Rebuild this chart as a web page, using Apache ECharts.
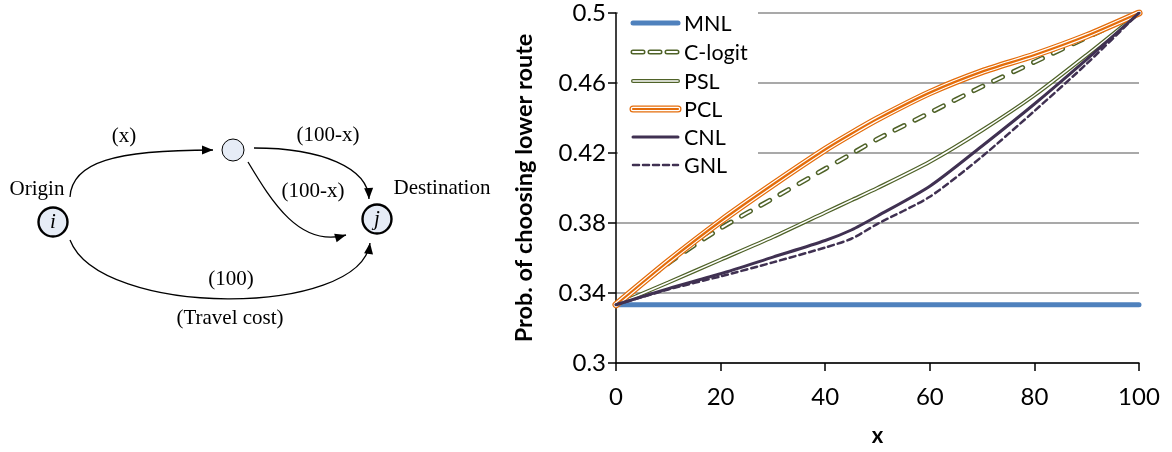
<!DOCTYPE html>
<html>
<head>
<meta charset="utf-8">
<script src="https://cdn.jsdelivr.net/npm/echarts@6/dist/echarts.min.js"></script>
<style>
  html, body { margin: 0; padding: 0; background: #fff; }
  #chart { width: 1172px; height: 452px; }
</style>
</head>
<body>
<div id="chart"></div>
<script>
// x = cost on the shared upper link; y = probability of taking the lower route
const xValues = [0, 10, 20, 30, 40, 45, 50, 60, 70, 80, 90, 100];
const mnl    = [0.3333, 0.3333, 0.3333, 0.3333, 0.3333, 0.3333, 0.3333, 0.3333, 0.3333, 0.3333, 0.3333, 0.3333];
const clogit = [0.3333, 0.357, 0.377, 0.394, 0.411, 0.4195, 0.428, 0.443, 0.458, 0.472, 0.486, 0.5];
const psl    = [0.3333, 0.346, 0.359, 0.372, 0.386, 0.393, 0.400, 0.415, 0.433, 0.453, 0.476, 0.5];
const pcl    = [0.3333, 0.358, 0.381, 0.402, 0.422, 0.431, 0.4395, 0.4545, 0.4665, 0.476, 0.487, 0.5];
const cnl    = [0.3333, 0.3425, 0.351, 0.3605, 0.370, 0.376, 0.384, 0.401, 0.424, 0.448, 0.4735, 0.5];
const gnl    = [0.3333, 0.342, 0.3495, 0.3575, 0.366, 0.371, 0.3795, 0.395, 0.418, 0.444, 0.471, 0.5];
const seriesNames = ['MNL', 'C-logit', 'PSL', 'PCL', 'CNL', 'GNL'];
const yTickLabels = ['0.3', '0.34', '0.38', '0.42', '0.46', '0.5'];
const xTickLabels = ['0', '20', '40', '60', '80', '100'];

const BLUE = '#4F81BD', GREEN = '#4F6228', ORANGE = '#E46C0A', PURPLE = '#403152';
const FONT = 'Lato, "Open Sans", "Noto Sans", sans-serif';
const SERIF = '"Liberation Serif", "DejaVu Serif", serif';

function pairs(ys) { return xValues.map((x, i) => [x, ys[i]]); }

function lineSeries(name, ys, color, width, dash, z) {
  return {
    name: name, type: 'line', data: pairs(ys), smooth: 0.25,
    showSymbol: false, symbol: 'none', silent: true, z: z,
    lineStyle: { color: color, width: width, type: dash || 'solid', cap: 'round' }
  };
}

// compound strokes (double / triple lines) are stacked strokes of the same path
const series = [
  lineSeries('MNL', mnl, BLUE, 5, null, 2),
  lineSeries('C-logit', clogit, GREEN, 5, [10, 12], 3),
  lineSeries('C-logit-in', clogit, '#fff', 2, [10, 12], 4),
  lineSeries('PSL', psl, GREEN, 4, null, 3),
  lineSeries('PSL-in', psl, '#fff', 1.5, null, 4),
  lineSeries('PCL', pcl, ORANGE, 7, null, 5),
  lineSeries('PCL-in', pcl, '#fff', 4.6, null, 6),
  lineSeries('PCL-core', pcl, ORANGE, 2.2, null, 7),
  lineSeries('GNL', gnl, PURPLE, 2.5, [6, 4], 8),
  lineSeries('CNL', cnl, PURPLE, 3, null, 8)
];

// ---- network sketch on the left ----
function arrowHead(fx, fy, tx, ty) {
  const len = 11, hw = 4.5;
  const dx = tx - fx, dy = ty - fy, d = Math.hypot(dx, dy);
  const ux = dx / d, uy = dy / d;
  const bx = tx - ux * len, by = ty - uy * len;
  return {
    type: 'polygon',
    shape: { points: [[tx, ty], [bx - uy * hw, by + ux * hw], [bx + uy * hw, by - ux * hw]] },
    style: { fill: '#000' }
  };
}
function link(p0, p1, p2, p3) {
  return [
    { type: 'bezierCurve',
      shape: { x1: p0[0], y1: p0[1], cpx1: p1[0], cpy1: p1[1], cpx2: p2[0], cpy2: p2[1], x2: p3[0], y2: p3[1] },
      style: { stroke: '#000', lineWidth: 1.3, fill: null } },
    arrowHead(p2[0], p2[1], p3[0], p3[1])
  ];
}
function label(text, x, y, italic) {
  return { type: 'text', x: x, y: y,
    style: { text: text, font: (italic ? 'italic ' : '') + '21px ' + SERIF, fill: '#000',
      align: 'center', verticalAlign: 'middle', textAlign: 'center', textVerticalAlign: 'middle' } };
}
function node(cx, cy, r, lw) {
  return { type: 'circle', shape: { cx: cx, cy: cy, r: r },
    style: { fill: '#E6ECF6', stroke: '#000', lineWidth: lw } };
}

const diagram = [].concat(
  link([70, 197], [72, 162], [115, 150], [213, 150]),
  link([254, 148], [322, 148], [368, 168], [369, 199]),
  link([248, 162], [272, 202], [300, 248], [346, 235]),
  link([70, 240], [100, 318], [360, 318], [370, 243]),
  [
    node(53, 222, 14.5, 2.4),
    node(377, 219, 14.5, 2.4),
    node(233, 150, 11, 1),
    label('i', 53, 222, true),
    label('j', 377, 219, true),
    label('Origin', 37, 189),
    label('Destination', 442, 188),
    label('(x)', 124, 136),
    label('(100-x)', 328, 135),
    label('(100-x)', 313, 191),
    label('(100)', 231, 279),
    label('(Travel cost)', 230, 318)
  ]
);

// ---- legend with compound line samples ----
const legendRows = [23, 52, 81, 109, 137, 165];
const legendStrokes = [
  [[BLUE, 5, null]],
  [[GREEN, 5, [10, 7]], ['#fff', 2, [10, 7]]],
  [[GREEN, 4, null], ['#fff', 1.5, null]],
  [[ORANGE, 7, null], ['#fff', 4.6, null], [ORANGE, 2.2, null]],
  [[PURPLE, 3, null]],
  [[PURPLE, 2.5, [6, 4]]]
];
const legend = [{ type: 'rect', shape: { x: 618, y: 3, width: 140, height: 178 }, style: { fill: '#fff' }, z: 50 }];
legendRows.forEach((y, i) => {
  legendStrokes[i].forEach(s => {
    legend.push({ type: 'line', z: 51, shape: { x1: 633, y1: y, x2: 678, y2: y },
      style: { stroke: s[0], lineWidth: s[1], lineDash: s[2], lineCap: 'round' } });
  });
  legend.push({ type: 'text', z: 52, x: 684, y: y + 1,
    style: { text: seriesNames[i], font: '21.5px ' + FONT, fill: '#000',
      align: 'left', verticalAlign: 'middle', textAlign: 'left', textVerticalAlign: 'middle' } });
});

const option = {
  animation: false,
  backgroundColor: '#fff',
  grid: { left: 616, top: 13, width: 523, height: 352 },
  xAxis: {
    type: 'value', min: 0, max: 100, interval: 20,
    name: 'x', nameLocation: 'middle', nameGap: 62,
    nameTextStyle: { fontFamily: FONT, fontSize: 22, fontWeight: 'bold', color: '#000' },
    axisLine: { show: true, onZero: false, lineStyle: { color: '#000', width: 1.5 } },
    axisTick: { show: true, inside: false, length: 8, lineStyle: { color: '#000', width: 1.5 } },
    axisLabel: { margin: 22, fontFamily: FONT, fontSize: 24, color: '#000',
      formatter: v => xTickLabels[Math.round(v / 20)] },
    splitLine: { show: false }
  },
  yAxis: {
    type: 'value', min: 0.3, max: 0.5, interval: 0.04,
    name: 'Prob. of choosing lower route', nameLocation: 'middle', nameGap: 80,
    nameTextStyle: { fontFamily: FONT, fontSize: 23.5, fontWeight: 'bold', color: '#000' },
    axisLine: { show: true, onZero: false, lineStyle: { color: '#000', width: 1.5 } },
    axisTick: { show: true, inside: false, length: 8, lineStyle: { color: '#000', width: 1.5 } },
    axisLabel: { margin: 10, fontFamily: FONT, fontSize: 24, color: '#000',
      formatter: v => yTickLabels[Math.round((v - 0.3) / 0.04)] },
    splitLine: { show: true, lineStyle: { color: '#8C8C8C', width: 1.5 } }
  },
  graphic: diagram.concat(legend),
  series: series
};

const chart = echarts.init(document.getElementById('chart'), null, { renderer: 'canvas' });
chart.setOption(option);
</script>
</body>
</html>
